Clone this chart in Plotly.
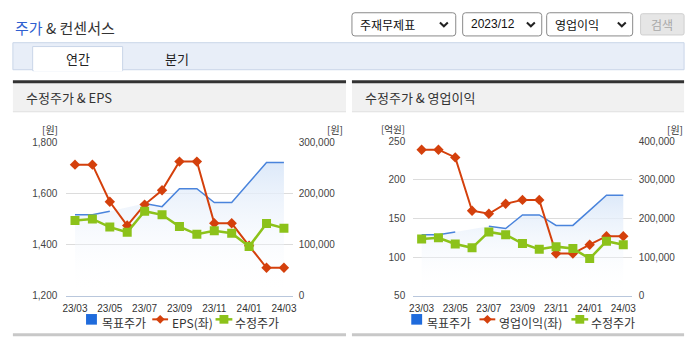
import plotly.graph_objects as go

# ---------------- data ----------------
months = ["23/03", "23/04", "23/05", "23/06", "23/07", "23/08", "23/09",
          "23/10", "23/11", "23/12", "24/01", "24/02", "24/03"]
tick_labels = ["23/03", "23/05", "23/07", "23/09", "23/11", "24/01", "24/03"]

target_price = [158000, 158000, 165000, None, 180000, 174000, 209000,
                209000, 182000, 182000, 221000, 260000, 260000]
adj_price = [147000, 150000, 134000, 124000, 165000, 158000, 135000,
             120000, 127000, 122000, 96000, 141000, 132000]
eps = [1712, 1712, 1567, 1474, 1556, 1612, 1724, 1724, 1483, 1483, 1395, 1309, 1309]
op_profit = [239, 239, 229, 160, 156, 169, 174, 174, 104.5, 104.5, 116, 127, 127]

eps_ticks = [1200, 1400, 1600, 1800]
op_ticks = [50, 100, 150, 200, 250]
price_ticks_l = [0, 100000, 200000, 300000]
price_ticks_r = [0, 100000, 200000, 300000, 400000]

# ---------------- style ----------------
W, H = 695, 349
BLUE = "#4a84dc"
BLUE_SQ = "#1f6bdc"
RED = "#d4400c"
GREEN = "#8cc21a"
FONT = "Liberation Sans, Noto Sans CJK KR, sans-serif"
KFONT = "Noto Sans CJK KR, Liberation Sans, sans-serif"
AXC = "#b9c7dc"


def px(x):
    return x / W


def py(y):
    return 1 - y / H


fig = go.Figure()


def add_chart(xa, ya_price, ya_left, ya_price2, left_vals, left_name):
    # target price area (bottom layer)
    fig.add_trace(go.Scatter(
        x=months, y=target_price, xaxis=xa, yaxis=ya_price, mode="lines",
        line=dict(color=BLUE, width=1.5), fill="tozeroy",
        fillgradient=dict(type="vertical",
                          colorscale=[[0, "rgba(255,255,255,0)"], [1, "#dde9f9"]]),
        name="목표주가", showlegend=False, hoverinfo="skip"))
    fig.add_trace(go.Scatter(
        x=months, y=left_vals, xaxis=xa, yaxis=ya_left, mode="lines+markers",
        line=dict(color=RED, width=2),
        marker=dict(symbol="diamond", size=8, color=RED),
        name=left_name, showlegend=False))
    fig.add_trace(go.Scatter(
        x=months, y=adj_price, xaxis=xa, yaxis=ya_price2, mode="lines+markers",
        line=dict(color=GREEN, width=2.5),
        marker=dict(symbol="square", size=9, color=GREEN),
        name="수정주가", showlegend=False))


add_chart("x", "y", "y2", "y3", eps, "EPS(좌)")
add_chart("x2", "y4", "y5", "y6", op_profit, "영업이익(좌)")

L_DOM = [px(63), px(292)]
R_DOM = [px(414), px(635)]
Y_DOM_L = [py(300), py(141)]
Y_DOM_R = [py(300), py(140)]

tickfont = dict(family=FONT, size=10, color="#444")


def xaxis_cfg(dom, anchor):
    return dict(domain=dom, anchor=anchor, type="category", range=[-0.5, 12.5],
                tickmode="array", tickvals=tick_labels, ticks="outside", ticklen=3,
                tickcolor="rgba(0,0,0,0)", showgrid=False,
                showline=True, linecolor=AXC, linewidth=1, zeroline=False,
                tickfont=dict(family=FONT, size=10, color="#333"), fixedrange=True)


def xbound_cfg(dom, anchor, over):
    return dict(domain=dom, anchor=anchor, overlaying=over, type="linear",
                range=[-0.5, 12.5], tickmode="array",
                tickvals=[i - 0.5 for i in range(14)], ticks="outside",
                ticklen=6, tickcolor=AXC, showticklabels=False, showgrid=False,
                showline=False, zeroline=False, side="bottom")


def price_main(dom, anchor, rng, tv, stand):
    return dict(domain=dom, anchor=anchor, side="right", range=rng,
                tickmode="array", tickvals=tv, tickformat=",", showgrid=True,
                gridcolor="#dcdcdc", zeroline=False, showline=False, ticks="",
                ticklabelstandoff=stand, tickfont=tickfont)


def left_ax(dom, anchor, over, rng, tv, stand):
    return dict(domain=dom, anchor=anchor, overlaying=over, side="left", range=rng,
                tickmode="array", tickvals=tv, tickformat=",", showgrid=False,
                zeroline=False, showline=False, ticks="", ticklabelstandoff=stand,
                tickfont=tickfont)


def hidden_ax(dom, anchor, over, rng):
    return dict(domain=dom, anchor=anchor, overlaying=over, range=rng, visible=False,
                side="right")


fig.update_layout(
    width=W, height=H, margin=dict(l=0, r=0, t=0, b=0),
    paper_bgcolor="white", plot_bgcolor="rgba(0,0,0,0)",
    font=dict(family=FONT, color="#333"),
    showlegend=False,
    xaxis=xaxis_cfg(L_DOM, "y"),
    xaxis2=xaxis_cfg(R_DOM, "y4"),
    xaxis3=xbound_cfg(L_DOM, "y", "x"),
    xaxis4=xbound_cfg(R_DOM, "y4", "x2"),
    yaxis=price_main(Y_DOM_L, "x", [0, 300000], price_ticks_l, 5),
    yaxis2=left_ax(Y_DOM_L, "x", "y", [1200, 1800], eps_ticks, 8),
    yaxis3=hidden_ax(Y_DOM_L, "x", "y", [0, 300000]),
    yaxis4=price_main(Y_DOM_R, "x2", [0, 400000], price_ticks_r, 6),
    yaxis5=left_ax(Y_DOM_R, "x2", "y4", [50, 250], op_ticks, 7),
    yaxis6=hidden_ax(Y_DOM_R, "x2", "y4", [0, 400000]),
    hovermode=False,
)

shapes = []
annots = []


def rect(x0, y0, x1, y1, fill=None, line=None, lw=1, layer="below"):
    shapes.append(dict(type="rect", xref="paper", yref="paper",
                       x0=px(x0), x1=px(x1), y0=py(y1), y1=py(y0),
                       fillcolor=fill or "rgba(0,0,0,0)",
                       line=dict(color=line or "rgba(0,0,0,0)", width=lw if line else 0),
                       layer=layer))


def rrect(x0, y0, x1, y1, r, fill, line):
    pts = (f"M{px(x0+r)},{py(y0)} L{px(x1-r)},{py(y0)} Q{px(x1)},{py(y0)} {px(x1)},{py(y0+r)} "
           f"L{px(x1)},{py(y1-r)} Q{px(x1)},{py(y1)} {px(x1-r)},{py(y1)} "
           f"L{px(x0+r)},{py(y1)} Q{px(x0)},{py(y1)} {px(x0)},{py(y1-r)} "
           f"L{px(x0)},{py(y0+r)} Q{px(x0)},{py(y0)} {px(x0+r)},{py(y0)} Z")
    shapes.append(dict(type="path", xref="paper", yref="paper", path=pts,
                       fillcolor=fill, line=dict(color=line, width=1), layer="below"))


def hline(x0, x1, y, color, w, layer="below"):
    shapes.append(dict(type="line", xref="paper", yref="paper",
                       x0=px(x0), x1=px(x1), y0=py(y), y1=py(y),
                       line=dict(color=color, width=w), layer=layer))


def chevron(cx, cy):
    shapes.append(dict(type="path", xref="paper", yref="paper",
                       path=f"M{px(cx-4)},{py(cy-2)} L{px(cx)},{py(cy+2)} L{px(cx+4)},{py(cy-2)}",
                       line=dict(color="#222", width=2)))


def text(x, y, s, size=12, color="#333", anchor="left", family=KFONT, pad=1):
    annots.append(dict(xref="paper", yref="paper", x=px(x), y=py(y), text=s,
                       showarrow=False, xanchor=anchor, yanchor="middle",
                       borderpad=pad,
                       font=dict(family=family, size=size, color=color)))


# header
text(9, 22, "<span style='color:#2f5fd0'>주가</span> & 컨센서스", size=15)
rrect(352, 7, 457, 31, 3, "white", "#8a8a8a")
text(358, 19, "주재무제표", 12, "#111")
chevron(445, 19)
rrect(464, 7, 544, 31, 3, "white", "#8a8a8a")
text(470, 19, "2023/12", 12, "#111", family=FONT)
chevron(533, 19)
rrect(549, 7, 636, 31, 3, "white", "#8a8a8a")
text(555, 19, "영업이익", 12, "#111")
chevron(625, 19)
rrect(644, 8, 688, 30, 2, "#e6e6e6", "#cfcfcf")
text(666, 19, "검색", 12, "#a8a8a8", anchor="center")

# tab bar
rect(9, 38, 688, 66, fill="#e8eef8", line="#c9d5e8")
rect(29, 42, 120, 67, fill="white", line="#c9d5e8")
hline(30, 119.5, 66.5, "white", 2)
text(75, 54, "연간", 13, "#222", anchor="center")
text(175, 54, "분기", 13, "#222", anchor="center")

# panels
for (x0, x1, title) in [(9, 346, "수정주가 & EPS"), (352, 688, "수정주가 & 영업이익")]:
    rect(x0, 79, x1, 109, fill="#f1f1f1")
    hline(x0, x1, 109.5, "#dddddd", 1)
    hline(x0, x1, 78.5, "#333333", 3)
    hline(x0, x1, 340.5, "#c8c8c8", 3)
    text(x0 + 11, 95, title, 13, "#333")

# unit labels
text(47, 128, "[원]", 10, "#333", anchor="center", pad=0)
text(335, 128, "[원]", 10, "#333", anchor="center", pad=0)
text(394, 127, "[억원]", 9.5, "#333", anchor="center", pad=0)
text(679, 128, "[원]", 10, "#333", anchor="center", pad=0)


# legends (drawn as key swatches + labels)
def legend(sq_x, red_x, green_x, labels, yc=324.5, yt=328):
    rect(sq_x, yc - 5.5, sq_x + 11, yc + 5.5, fill=BLUE_SQ, layer="above")
    text(sq_x + 15, yt, labels[0], 12, "#333", pad=0)
    hline(red_x, red_x + 16, yc, RED, 2, layer="above")
    c = red_x + 8
    shapes.append(dict(type="path", xref="paper", yref="paper",
                       path=f"M{px(c)},{py(yc-4.5)} L{px(c+4.5)},{py(yc)} L{px(c)},{py(yc+4.5)} L{px(c-4.5)},{py(yc)} Z",
                       fillcolor=RED, line=dict(width=0), layer="above"))
    text(red_x + 19, yt, labels[1], 12, "#333", pad=0)
    hline(green_x, green_x + 17, yc, GREEN, 2.5, layer="above")
    g = green_x + 8.5
    rect(g - 4.5, yc - 4.5, g + 4.5, yc + 4.5, fill=GREEN, layer="above")
    text(green_x + 19, yt, labels[2], 12, "#333", pad=0)


legend(83, 150, 214, ["목표주가", "EPS(좌)", "수정주가"])
legend(412, 481, 574, ["목표주가", "영업이익(좌)", "수정주가"])

fig.update_layout(shapes=shapes, annotations=annots)
fig.write_html("out.html")
